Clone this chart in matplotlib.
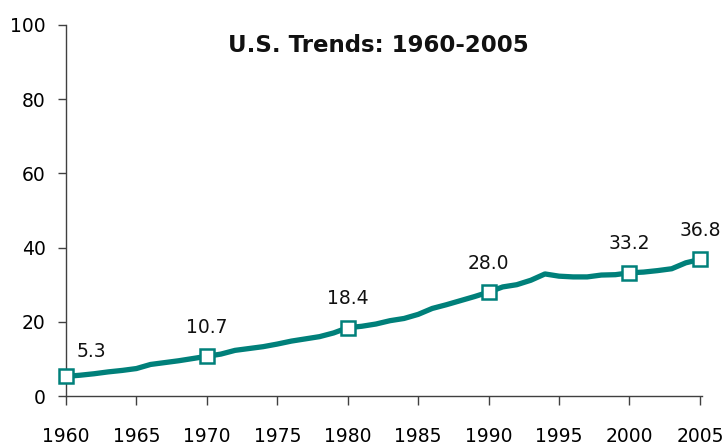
import matplotlib.pyplot as plt

years = list(range(1960, 2006))
rates = [
    5.3, 5.6, 6.0, 6.5, 6.9, 7.4, 8.5, 9.0, 9.5, 10.1,
    10.7, 11.3, 12.3, 12.8, 13.3, 14.0, 14.8, 15.4, 16.0, 17.0,
    18.4, 18.8, 19.4, 20.3, 20.9, 22.0, 23.6, 24.6, 25.7, 26.8,
    28.0, 29.4, 30.0, 31.2, 32.9, 32.3, 32.1, 32.1, 32.6, 32.7,
    33.2, 33.4, 33.8, 34.3, 35.9, 36.8,
]
marked_years = [1960, 1970, 1980, 1990, 2000, 2005]
marked_labels = ["5.3", "10.7", "18.4", "28.0", "33.2", "36.8"]

TEAL = "#00807A"
AXIS = "#404040"

fig = plt.figure(figsize=(7.28, 4.47), dpi=100)
ax = fig.add_axes([66 / 728, 51 / 447, 636 / 728, 371 / 447])

ax.plot(years, rates, color=TEAL, lw=3.8, solid_capstyle="round", zorder=2)

marked_vals = [rates[years.index(y)] for y in marked_years]
ax.plot(marked_years, marked_vals, ls="none", marker="s", ms=10,
        mfc="white", mec=TEAL, mew=1.8, clip_on=False, zorder=3)

for yr, val, lab in zip(marked_years, marked_vals, marked_labels):
    # first label sits up and to the right, the rest straight above
    dx = 25 if yr == 1960 else 0
    dy = 25 if yr == 1960 else 29
    ax.annotate(lab, (yr, val), xytext=(dx * 0.72, dy * 0.72),
                textcoords="offset points", ha="center", va="center",
                fontsize=13.5, color="#111111")

ax.set_xlim(1960, 2005.15)
ax.set_ylim(0, 100)
ax.set_xticks(range(1960, 2006, 5))
ax.set_yticks(range(0, 101, 20))

for side in ("top", "right"):
    ax.spines[side].set_visible(False)
for side in ("left", "bottom"):
    ax.spines[side].set_color(AXIS)
    ax.spines[side].set_linewidth(1.0)

ax.tick_params(axis="x", direction="out", length=6.5, width=1.0,
               color=AXIS, pad=16, labelsize=13.5)
ax.tick_params(axis="y", direction="out", length=5.5, width=1.0,
               color=AXIS, pad=9, labelsize=13.5)

fig.text(378 / 728, 1 - 46 / 447, "U.S. Trends: 1960-2005", ha="center",
         va="center", fontsize=16.5, fontweight="bold", color="#111111")

fig.savefig("out.png", dpi=100)
